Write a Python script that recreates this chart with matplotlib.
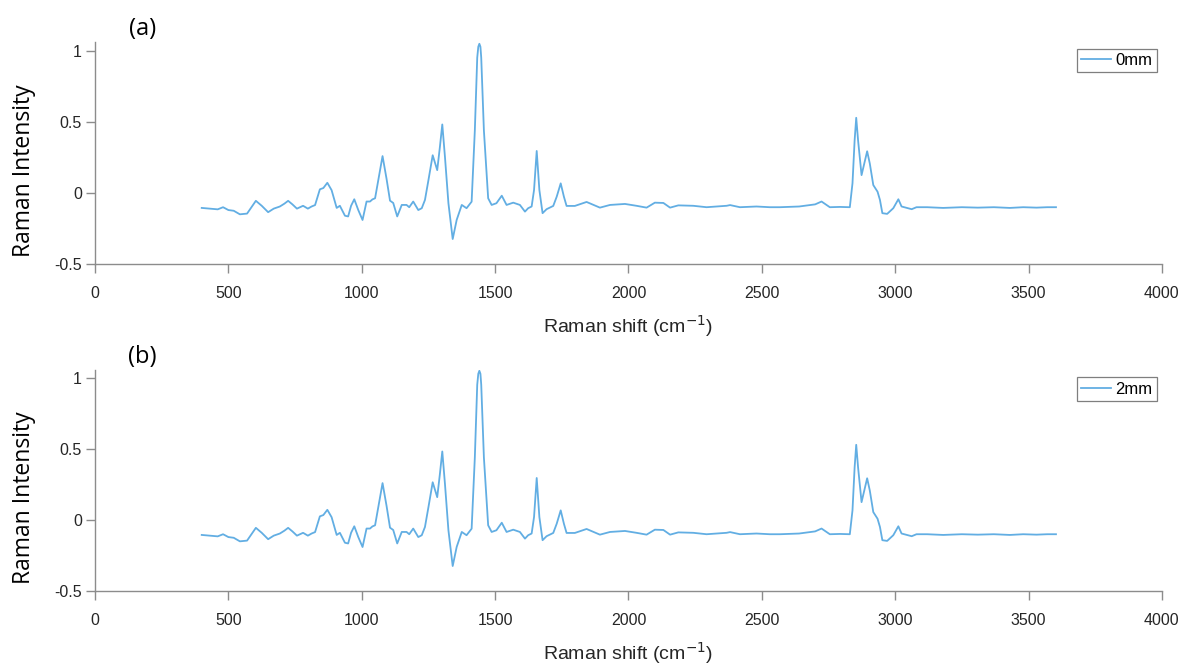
import matplotlib
matplotlib.use("Agg")
import matplotlib.pyplot as plt

# Raman shift (cm^-1) and intensity
shift = [400, 430, 460, 480, 500, 520, 543, 570, 603, 625,
         649, 670, 693, 710, 724, 740, 757, 780, 798, 812,
         825, 843, 856, 871, 887, 906, 918, 937, 949, 960,
         972, 987, 1003, 1018, 1031, 1040, 1050, 1063, 1078, 1093,
         1106, 1118, 1133, 1150, 1168, 1178, 1193, 1212, 1225, 1237,
         1250, 1266, 1283, 1293, 1302, 1312, 1325, 1341, 1356, 1375,
         1393, 1412, 1424, 1433, 1437, 1441, 1445, 1448, 1458, 1474, 1487, 1505,
         1525, 1543, 1568, 1593, 1612, 1624, 1637, 1646, 1656, 1666,
         1678, 1693, 1718, 1731, 1746, 1758, 1768, 1799, 1843, 1893,
         1931, 1987, 2030, 2068, 2099, 2131, 2156, 2187, 2243, 2293,
         2368, 2381, 2418, 2480, 2530, 2568, 2640, 2700, 2724, 2755,
         2793, 2830, 2840, 2848, 2854, 2861, 2874, 2884, 2895, 2905,
         2918, 2934, 2943, 2952, 2970, 2993, 3012, 3024, 3062, 3080,
         3120, 3180, 3250, 3310, 3370, 3430, 3480, 3530, 3570, 3603]
intensity_0mm = [-0.105, -0.11, -0.115, -0.10, -0.12, -0.125, -0.15, -0.145, -0.055, -0.09,
                 -0.135, -0.11, -0.095, -0.075, -0.055, -0.08, -0.11, -0.09, -0.11, -0.095,
                 -0.085, 0.026, 0.035, 0.072, 0.02, -0.105, -0.09, -0.16, -0.165, -0.09,
                 -0.044, -0.12, -0.19, -0.06, -0.06, -0.045, -0.037, 0.10, 0.26, 0.10,
                 -0.054, -0.07, -0.165, -0.084, -0.084, -0.10, -0.06, -0.12, -0.107, -0.049,
                 0.09, 0.266, 0.161, 0.324, 0.483, 0.254, -0.072, -0.324, -0.189, -0.084,
                 -0.107, -0.061, 0.44, 0.953, 1.03, 1.051, 1.03, 0.953, 0.44, -0.037, -0.084, -0.072,
                 -0.019, -0.084, -0.068, -0.084, -0.131, -0.107, -0.095, 0.021, 0.296, 0.021,
                 -0.142, -0.114, -0.091, -0.026, 0.068, -0.026, -0.091, -0.091, -0.063, -0.103,
                 -0.084, -0.077, -0.09, -0.103, -0.068, -0.07, -0.103, -0.087, -0.09, -0.10,
                 -0.09, -0.085, -0.10, -0.095, -0.10, -0.10, -0.095, -0.08, -0.06, -0.10,
                 -0.098, -0.10, 0.068, 0.37, 0.53, 0.37, 0.126, 0.207, 0.294, 0.207,
                 0.056, 0.009, -0.049, -0.142, -0.147, -0.107, -0.044, -0.095, -0.114, -0.10,
                 -0.10, -0.105, -0.10, -0.103, -0.10, -0.105, -0.10, -0.103, -0.10, -0.10]
intensity_2mm = list(intensity_0mm)

labels = ["0mm", "2mm"]
panels = ["(a)", "(b)"]
series = [intensity_0mm, intensity_2mm]

line_col = "#62aee3"
axis_col = "#8c8c8c"

fig = plt.figure(figsize=(11.88, 6.64), dpi=100)
ax_pos = [[0.080, 0.6024, 0.898, 0.3336], [0.080, 0.1099, 0.898, 0.3336]]
leg_anchor = [(0.9735, 0.9265), (0.9735, 0.4315)]
panel_y = [0.957, 0.463]

for i in range(2):
    ax = fig.add_axes(ax_pos[i])
    ax.plot(shift, series[i], color=line_col, lw=1.3, label=labels[i])
    ax.set_xlim(0, 4000)
    ax.set_ylim(-0.5, 1.06)
    ax.set_xticks([0, 500, 1000, 1500, 2000, 2500, 3000, 3500, 4000])
    ax.set_yticks([-0.5, 0, 0.5, 1])
    ax.set_yticklabels(["-0.5", "0", "0.5", "1"])
    for s in ["top", "right"]:
        ax.spines[s].set_visible(False)
    for s in ["left", "bottom"]:
        ax.spines[s].set_color(axis_col)
        ax.spines[s].set_linewidth(1.0)
    ax.tick_params(direction="out", length=6.5, width=1, colors=axis_col,
                   labelcolor="#262626", labelsize=11.5)
    ax.tick_params(axis="x", pad=9)
    ax.tick_params(axis="y", pad=3)
    for lab in ax.get_xticklabels() + ax.get_yticklabels():
        lab.set_family("Liberation Sans")
    ax.set_xlabel("Raman shift (cm$^{-1}$)", fontsize=14, family="Liberation Sans",
                  color="#262626", labelpad=9)
    ax.set_ylabel("Raman Intensity", fontsize=16.5, family="Open Sans", color="black")
    ax.yaxis.set_label_coords(-0.055, 0.42)
    leg = ax.legend(loc="upper right", bbox_to_anchor=leg_anchor[i],
                    bbox_transform=fig.transFigure, fancybox=False, framealpha=1,
                    edgecolor="#7f7f7f", handlelength=1.8, handletextpad=0.25,
                    borderpad=0.25, borderaxespad=0,
                    prop={"family": "Liberation Sans", "size": 12})
    leg.get_frame().set_linewidth(0.9)
    fig.text(0.12, panel_y[i], panels[i], fontsize=17, family="Open Sans",
             ha="center", va="center")

fig.savefig("out.png", dpi=100)
